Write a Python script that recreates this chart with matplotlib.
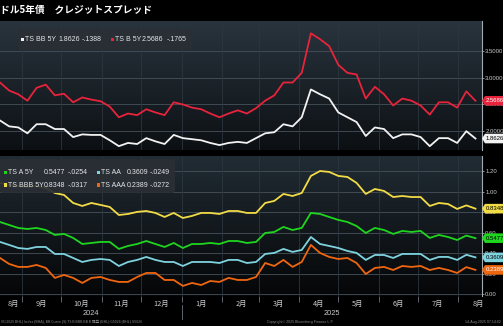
import numpy as np
import pandas as pd
import matplotlib
matplotlib.use('Agg')
import matplotlib.pyplot as plt
import matplotlib.ticker as mticker
import matplotlib.transforms as mtrans
import matplotlib.dates as mdates
from matplotlib.colors import LinearSegmentedColormap
from matplotlib.patches import Polygon, FancyBboxPatch, Rectangle
from matplotlib.lines import Line2D

# ---------------- data (weekly) ----------------
dates = pd.date_range('2024-08-15', periods=53, freq='7D')

bb_5y = [2.20, 2.09, 2.07, 1.96, 2.13, 2.13, 2.04, 2.04, 1.89, 1.94, 1.93, 1.93, 1.83, 1.72,
         1.78, 1.76, 1.87, 1.81, 1.76, 1.93, 1.87, 1.85, 1.83, 1.78, 1.74, 1.78, 1.80, 1.78,
         1.87, 1.96, 1.98, 2.13, 2.09, 2.26, 2.78, 2.69, 2.61, 2.35, 2.26, 2.17, 1.91, 2.07,
         2.04, 1.87, 1.94, 1.94, 1.89, 1.72, 1.87, 1.87, 1.78, 2.00, 1.8626]
b_5y = [2.91, 2.76, 2.69, 2.57, 2.81, 2.87, 2.67, 2.70, 2.54, 2.63, 2.59, 2.56, 2.46, 2.26,
        2.33, 2.30, 2.41, 2.35, 2.30, 2.54, 2.50, 2.44, 2.41, 2.33, 2.26, 2.33, 2.39, 2.33,
        2.43, 2.57, 2.67, 2.91, 2.91, 3.09, 3.83, 3.72, 3.59, 3.24, 3.09, 3.06, 2.61, 2.83,
        2.69, 2.48, 2.61, 2.57, 2.48, 2.31, 2.54, 2.54, 2.44, 2.745, 2.5686]
bbb_5y = [1.085, 1.065, 1.055, 1.046, 1.055, 1.036, 0.987, 0.968, 0.890, 0.861, 0.890, 0.871,
          0.851, 0.773, 0.783, 0.803, 0.812, 0.793, 0.754, 0.793, 0.744, 0.764, 0.793, 0.793,
          0.783, 0.812, 0.812, 0.793, 0.793, 0.890, 0.910, 0.978, 0.958, 0.987, 1.153, 1.201,
          1.192, 1.153, 1.143, 1.085, 0.978, 1.026, 1.007, 0.948, 0.958, 0.948, 0.948, 0.861,
          0.890, 0.880, 0.832, 0.8665, 0.8348]
a_5y = [0.705, 0.676, 0.647, 0.637, 0.647, 0.627, 0.579, 0.589, 0.550, 0.491, 0.501, 0.511,
        0.511, 0.443, 0.472, 0.491, 0.520, 0.491, 0.462, 0.501, 0.452, 0.491, 0.491, 0.501,
        0.491, 0.520, 0.520, 0.501, 0.511, 0.598, 0.608, 0.657, 0.627, 0.647, 0.793, 0.783,
        0.754, 0.725, 0.705, 0.666, 0.598, 0.647, 0.627, 0.589, 0.618, 0.608, 0.618, 0.550,
        0.579, 0.559, 0.530, 0.573, 0.5477]
aa = [0.511, 0.482, 0.452, 0.443, 0.462, 0.462, 0.394, 0.394, 0.355, 0.316, 0.336, 0.345,
      0.336, 0.277, 0.316, 0.336, 0.365, 0.336, 0.316, 0.316, 0.277, 0.316, 0.316, 0.316,
      0.306, 0.336, 0.336, 0.306, 0.316, 0.394, 0.404, 0.443, 0.414, 0.433, 0.559, 0.491,
      0.472, 0.452, 0.423, 0.404, 0.336, 0.384, 0.384, 0.355, 0.394, 0.394, 0.394, 0.336,
      0.365, 0.365, 0.336, 0.386, 0.3609]
aaa = [0.355, 0.297, 0.268, 0.268, 0.287, 0.258, 0.161, 0.190, 0.161, 0.112, 0.161, 0.170,
       0.141, 0.122, 0.122, 0.170, 0.209, 0.209, 0.141, 0.141, 0.083, 0.112, 0.092, 0.131,
       0.122, 0.161, 0.141, 0.141, 0.170, 0.306, 0.277, 0.336, 0.268, 0.316, 0.482, 0.404,
       0.365, 0.345, 0.355, 0.306, 0.199, 0.258, 0.268, 0.238, 0.277, 0.268, 0.277, 0.238,
       0.258, 0.238, 0.209, 0.266, 0.2389]

top_names = ['TS BB 5Y', 'TS B 5Y']
top_changes = ['-.1388', '-.1765']
bot_names = ['TS A 5Y', 'TS AA', 'TS BBB 5Y', 'TS AAA']
bot_changes = ['-.0254', '-.0249', '-.0317', '-.0272']

top_yticks = [2.0, 2.5, 3.0, 3.5]
bot_yticks = [0.0, 0.2, 0.4, 0.6, 0.8, 1.0, 1.2]
month_labels = ['8月', '9月', '10月', '11月', '12月', '1月', '2月', '3月', '4月', '5月', '6月', '7月', '8月']
month_starts = pd.date_range('2024-09-01', '2025-08-01', freq='MS')
label_dates = [pd.Timestamp('2024-08-25')] + list(month_starts + pd.Timedelta(days=15))

# ---------------- style ----------------
NARROW = ['Liberation Sans', 'DejaVu Sans']
CJK = ['Noto Sans CJK JP', 'DejaVu Sans']
plt.rcParams['font.family'] = NARROW

C_WHITE = '#f2f2f2'
C_RED = '#e8233c'
C_YEL = '#f2dc45'
C_GRN = '#1ed61e'
C_CYN = '#7ed3df'
C_ORG = '#f0660f'

W, H = 503, 326
fig = plt.figure(figsize=(W / 100, H / 100), dpi=100)
fig.patch.set_facecolor('black')


def fx(px):
    return px / W


def fy(py):
    return 1 - py / H


def rect(x0, y0, x1, y1):
    return [fx(x0), fy(y1), fx(x1) - fx(x0), fy(y0) - fy(y1)]


TOP_BOX = (0, 21, 482, 150)
BOT_BOX = (0, 156, 482, 296)
TOP_LIM = (1.648, 4.06)
BOT_LIM = (-0.015, 1.347)
ax1 = fig.add_axes(rect(*TOP_BOX))
ax2 = fig.add_axes(rect(*BOT_BOX))

xmin = pd.Timestamp('2024-08-15')
xmax = pd.Timestamp('2025-08-19')
TICK_FS = 4.3


def setup(ax, ylim, yticks, fmt, top_col, bot_col):
    cmap = LinearSegmentedColormap.from_list('bg', [bot_col, top_col])
    grad = np.linspace(0, 1, 256).reshape(-1, 1)
    ax.imshow(grad, extent=[0, 1, 0, 1], transform=ax.transAxes, origin='lower',
              aspect='auto', cmap=cmap, zorder=0, interpolation='bilinear')
    ax.set_xlim(xmin, xmax)
    ax.set_ylim(*ylim)
    for t in yticks:
        ax.axhline(t, color='#47515b', lw=0.6, zorder=1)
    for m in month_starts:
        ax.axvline(m, color='#2c363f', lw=0.6, zorder=1)
    for s in ['top', 'left', 'bottom']:
        ax.spines[s].set_visible(False)
    ax.spines['right'].set_color('#a4aab0')
    ax.spines['right'].set_linewidth(0.8)
    ax.yaxis.tick_right()
    ax.set_yticks(yticks)
    ax.yaxis.set_major_formatter(mticker.FormatStrFormatter(fmt))
    ax.tick_params(axis='y', direction='out', length=1.5, width=0.6, colors='#a4aab0',
                   labelcolor='#c8ccd0', labelsize=TICK_FS, pad=0.8)


ax1.plot(dates, bb_5y, color=C_WHITE, lw=1.3, zorder=3)
ax1.plot(dates, b_5y, color=C_RED, lw=1.3, zorder=3)
setup(ax1, TOP_LIM, top_yticks, '%.4f', '#29343e', '#0c1013')
ax1.tick_params(axis='x', which='both', bottom=False, labelbottom=False)

ax2.plot(dates, bbb_5y, color=C_YEL, lw=1.3, zorder=3)
ax2.plot(dates, a_5y, color=C_GRN, lw=1.3, zorder=3)
ax2.plot(dates, aa, color=C_CYN, lw=1.3, zorder=3)
ax2.plot(dates, aaa, color=C_ORG, lw=1.3, zorder=3)
setup(ax2, BOT_LIM, bot_yticks, '%.2f', '#212c34', '#050607')

ax2.set_xticks(label_dates)
ax2.set_xticklabels(month_labels, fontsize=5.3, color='#c8ccd0', family=CJK)
ax2.set_xticks(month_starts, minor=True)
ax2.tick_params(axis='x', which='major', length=0, pad=3)
ax2.tick_params(axis='x', which='minor', length=4, width=0.6, color='#6c737a', direction='out')
ax2.set_xlim(xmin, xmax)

# year labels
btr = mtrans.blended_transform_factory(ax2.transData, fig.transFigure)
n_min = mdates.date2num(xmin)
n_max = mdates.date2num(xmax)
n_jan = mdates.date2num(pd.Timestamp('2025-01-01'))
fig.text((n_min + n_jan) / 2, fy(313.5), '2024', transform=btr, ha='center', va='center',
         fontsize=5.3, color='#c8ccd0')
fig.text((n_jan + n_max) / 2, fy(313.5), '2025', transform=btr, ha='center', va='center',
         fontsize=5.3, color='#c8ccd0')
fig.add_artist(Line2D([n_jan, n_jan], [fy(305), fy(319)], transform=btr, color='#6c737a', lw=0.6))

# title
fig.text(fx(0), fy(10), 'ドル5年債　クレジットスプレッド', family=CJK, weight='bold',
         fontsize=7, color='white', va='center', ha='left')

# footer
fig.text(fx(1), fy(322.5), '05/2025 BHL) Index (BHA), BB Curve (S) TS B BBB BB B 損益 (BHL) G5024 (BHL) G5026',
         fontsize=2.6, color='#8c8c8c', va='center', ha='left', family=CJK)
fig.text(fx(300), fy(322.5), 'Copyright© 2025 Bloomberg Finance L.P.', fontsize=2.6,
         color='#8c8c8c', va='center', ha='center')
fig.text(fx(501), fy(322.5), '14-Aug-2025 07:14:02', fontsize=2.6, color='#8c8c8c',
         va='center', ha='right')


# last value tags
def y_px(box, ylim, v):
    x0, y0, x1, y1 = box
    frac = (v - ylim[0]) / (ylim[1] - ylim[0])
    return y1 - frac * (y1 - y0)


def tag(box, ylim, v, face, tcol, txt):
    yc = y_px(box, ylim, v)
    pts = [(fx(482), fy(yc)), (fx(485), fy(yc - 4.8)), (fx(503), fy(yc - 4.8)),
           (fx(503), fy(yc + 4.8)), (fx(485), fy(yc + 4.8))]
    fig.add_artist(Polygon(pts, closed=True, facecolor=face, edgecolor='none', zorder=5))
    fig.text(fx(485.3), fy(yc), txt, color=tcol, fontsize=TICK_FS, va='center', ha='left', zorder=6)


tag(TOP_BOX, TOP_LIM, b_5y[-1], C_RED, 'white', f'{b_5y[-1]:.4f}')
tag(TOP_BOX, TOP_LIM, bb_5y[-1], C_WHITE, 'black', f'{bb_5y[-1]:.4f}')
tag(BOT_BOX, BOT_LIM, bbb_5y[-1], C_YEL, 'black', f'{bbb_5y[-1]:.4f}')
tag(BOT_BOX, BOT_LIM, a_5y[-1], C_GRN, 'black', f'{a_5y[-1]:.4f}')
tag(BOT_BOX, BOT_LIM, aa[-1], C_CYN, 'black', f'{aa[-1]:.4f}')
tag(BOT_BOX, BOT_LIM, aaa[-1], C_ORG, 'white', f'{aaa[-1]:.4f}')


# legends
LEG_FS = 5.0


def legend_box(x0, y0, x1, y1):
    fig.add_artist(FancyBboxPatch((fx(x0), fy(y1)), fx(x1) - fx(x0), fy(y0) - fy(y1),
                                  boxstyle='round,pad=0,rounding_size=0.006',
                                  facecolor='#2a2f35', edgecolor='none', alpha=0.92, zorder=4))


def legend_item(xm, y, color, name, value, change, xv, xc):
    fig.add_artist(Rectangle((fx(xm), fy(y + 1.6)), fx(3.2), fy(0) - fy(3.2),
                             facecolor=color, edgecolor='none', zorder=6))
    kw = dict(color='#e4e6e8', fontsize=LEG_FS, va='center', ha='left', zorder=6)
    fig.text(fx(xm + 3.8), fy(y), name, **kw)
    fig.text(fx(xv), fy(y), value, **kw)
    fig.text(fx(xc), fy(y), change, **kw)


legend_box(18, 29, 192, 50)
legend_item(21, 39.5, C_WHITE, top_names[0], f'{bb_5y[-1]:.4f}', top_changes[0], 58, 82)
legend_item(111, 39.5, C_RED, top_names[1], f'{b_5y[-1]:.4f}', top_changes[1], 142, 167)

legend_box(0, 159, 175, 193)
legend_item(4, 172.5, C_GRN, bot_names[0], f'{a_5y[-1]:.4f}', bot_changes[0], 43.5, 68)
legend_item(97, 172.5, C_CYN, bot_names[1], f'{aa[-1]:.4f}', bot_changes[1], 126.5, 150)
legend_item(4, 185, C_YEL, bot_names[2], f'{bbb_5y[-1]:.4f}', bot_changes[2], 43.5, 68)
legend_item(97, 185, C_ORG, bot_names[3], f'{aaa[-1]:.4f}', bot_changes[3], 126.5, 150)

fig.savefig('out.png', dpi=100, facecolor='black')
